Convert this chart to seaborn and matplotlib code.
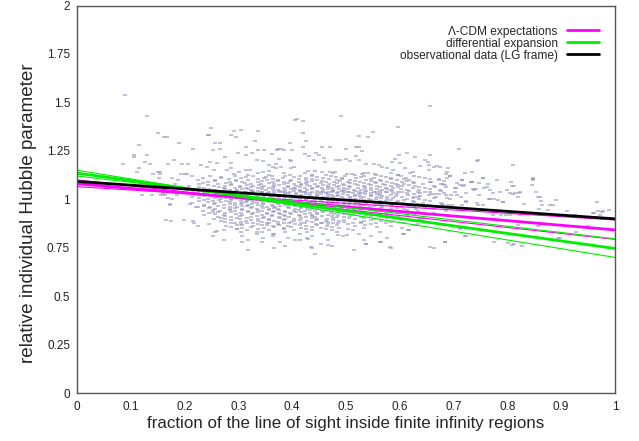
import matplotlib
matplotlib.use("Agg")
import matplotlib.pyplot as plt
import seaborn as sns
import pandas as pd

####### data #######

# fitted lines, value at x=0 and at x=1
line_x = [0.0, 1.0]
lcdm_main = [1.080, 0.842]
lcdm_band = [[1.065, 0.893], [1.100, 0.793]]
diff_main = [1.135, 0.746]
diff_band = [[1.120, 0.796], [1.150, 0.700]]
obs_line = [1.092, 0.899]

# isolated points (read one by one)
outer_x = [0.090, 0.656, 0.131, 0.490, 0.406, 0.409, 0.421, 0.250, 0.305, 0.596,
           0.291, 0.336, 0.551, 0.151, 0.296, 0.286, 0.421, 0.243, 0.246, 0.525,
           0.162, 0.167, 0.540, 0.331, 0.426, 0.190, 0.256, 0.266, 0.396, 0.116,
           0.315, 0.421, 0.456, 0.470, 0.519, 0.525, 0.216, 0.253, 0.266, 0.336,
           0.347, 0.371, 0.373, 0.380, 0.400, 0.500, 0.711, 0.385, 0.530, 0.300,
           0.325, 0.362, 0.424, 0.445, 0.613, 0.106, 0.131, 0.315, 0.450, 0.599,
           0.656, 0.106, 0.275, 0.432, 0.519, 0.628, 0.375, 0.396, 0.459, 0.500,
           0.591, 0.180, 0.334, 0.346, 0.398, 0.441, 0.481, 0.489, 0.507, 0.525,
           0.646, 0.744, 0.746, 0.126, 0.247, 0.260, 0.286, 0.461, 0.586, 0.653,
           0.086, 0.136, 0.170, 0.196, 0.206, 0.230, 0.356, 0.370, 0.537, 0.553,
           0.600, 0.654, 0.811, 0.241, 0.370, 0.379, 0.397, 0.403, 0.562, 0.567,
           0.638, 0.664, 0.670, 0.116, 0.286, 0.365, 0.576, 0.610, 0.675, 0.690,
           0.255, 0.278, 0.314, 0.322, 0.356, 0.430, 0.442, 0.588, 0.655, 0.111,
           0.151, 0.155, 0.302, 0.346, 0.455, 0.470, 0.480, 0.625, 0.687, 0.735,
           0.142, 0.193, 0.200, 0.292, 0.501, 0.511, 0.529, 0.541, 0.554, 0.619,
           0.686, 0.721, 0.154, 0.847, 0.845, 0.861, 0.966, 0.988, 0.975, 0.910,
           0.960, 0.805, 0.814, 0.822, 0.766, 0.791, 0.724, 0.748, 0.780, 0.854,
           0.862, 0.890, 0.712, 0.703, 0.734, 0.762, 0.773, 0.681, 0.693, 0.715,
           0.719, 0.735, 0.737, 0.742, 0.755, 0.768, 0.799, 0.811, 0.820, 0.783,
           0.792, 0.848, 0.856, 0.830, 0.864, 0.879, 0.885, 0.858, 0.876, 0.926,
           0.969, 0.977, 0.972, 0.961, 0.687, 0.696, 0.706, 0.715, 0.680, 0.690,
           0.746, 0.755, 0.768, 0.774, 0.789, 0.805, 0.823, 0.820, 0.861, 0.895,
           0.950, 0.712, 0.721, 0.684, 0.802, 0.808, 0.808, 0.823, 0.120, 0.139,
           0.157, 0.160, 0.172, 0.165, 0.199, 0.215, 0.221, 0.210, 0.185, 0.253,
           0.260, 0.297, 0.306, 0.334, 0.353, 0.365, 0.405, 0.430, 0.435, 0.467,
           0.486, 0.501, 0.538, 0.565, 0.582, 0.607, 0.616, 0.628, 0.656, 0.641,
           0.597, 0.607, 0.658, 0.672, 0.658, 0.672, 0.665, 0.634, 0.644, 0.631,
           0.678, 0.204, 0.170]
outer_y = [1.540, 1.480, 1.428, 1.428, 1.410, 1.416, 1.402, 1.369, 1.359, 1.371,
           1.350, 1.350, 1.349, 1.340, 1.320, 1.330, 1.342, 1.330, 1.330, 1.328,
           1.320, 1.320, 1.320, 1.299, 1.300, 1.288, 1.289, 1.289, 1.290, 1.278,
           1.268, 1.268, 1.268, 1.268, 1.270, 1.270, 1.259, 1.256, 1.260, 1.256,
           1.256, 1.256, 1.259, 1.259, 1.256, 1.259, 1.259, 1.252, 1.247, 1.239,
           1.239, 1.234, 1.235, 1.239, 1.237, 1.230, 1.230, 1.230, 1.230, 1.230,
           1.228, 1.217, 1.220, 1.222, 1.221, 1.220, 1.209, 1.204, 1.213, 1.208,
           1.208, 1.201, 1.201, 1.200, 1.196, 1.201, 1.201, 1.201, 1.196, 1.201,
           1.201, 1.199, 1.201, 1.190, 1.190, 1.187, 1.187, 1.192, 1.192, 1.194,
           1.182, 1.180, 1.180, 1.180, 1.180, 1.175, 1.178, 1.182, 1.182, 1.182,
           1.185, 1.178, 1.177, 1.167, 1.160, 1.167, 1.160, 1.167, 1.175, 1.167,
           1.172, 1.168, 1.170, 1.160, 1.161, 1.165, 1.161, 1.161, 1.166, 1.160,
           1.149, 1.152, 1.152, 1.152, 1.146, 1.148, 1.145, 1.152, 1.152, 1.139,
           1.139, 1.139, 1.140, 1.140, 1.139, 1.142, 1.142, 1.139, 1.142, 1.139,
           1.130, 1.130, 1.130, 1.130, 1.132, 1.132, 1.130, 1.134, 1.130, 1.134,
           1.130, 1.134, 1.130, 1.108, 1.074, 1.013, 0.987, 0.945, 0.936, 0.939,
           0.930, 1.034, 1.030, 1.030, 0.999, 0.987, 0.987, 1.085, 1.099, 1.039,
           0.991, 0.996, 1.074, 1.057, 1.091, 1.065, 1.034, 1.080, 1.120, 1.098,
           1.072, 1.089, 1.054, 1.051, 1.110, 1.046, 1.046, 1.029, 1.012, 0.994,
           0.986, 1.106, 1.012, 0.977, 0.968, 0.968, 0.968, 0.951, 0.943, 0.920,
           0.937, 0.937, 0.920, 0.931, 1.006, 1.020, 1.020, 0.968, 0.970, 0.970,
           0.968, 0.968, 1.003, 0.920, 0.920, 0.920, 0.920, 0.869, 0.865, 0.800,
           0.862, 0.844, 0.810, 0.779, 0.776, 0.762, 1.071, 1.037, 1.020, 1.020,
           1.020, 1.029, 0.977, 0.891, 0.891, 0.886, 0.960, 0.977, 1.020, 0.934,
           0.834, 0.848, 0.865, 0.831, 0.865, 0.822, 0.788, 0.796, 0.753, 0.762,
           0.814, 0.814, 0.771, 0.779, 0.753, 0.822, 0.840, 0.865, 0.753, 0.900,
           1.123, 1.106, 1.089, 1.106, 1.029, 1.029, 1.063, 1.012, 0.968, 0.951,
           0.977, 1.130, 1.006]

# dense core, one list of x positions for each row of y
core_y = [1.12, 1.11, 1.10, 1.09, 1.08, 1.07, 1.06, 1.05, 1.04, 1.03, 1.02, 1.01,
          1.00, 0.99, 0.98, 0.97, 0.96, 0.95, 0.94, 0.93, 0.92, 0.91, 0.90, 0.89,
          0.88, 0.87, 0.86, 0.85, 0.84, 0.83, 0.82, 0.81, 0.80, 0.79, 0.78, 0.77,
          0.76, 0.75, 0.74, 0.72]
core_x = [
    [0.213, 0.247, 0.294, 0.328, 0.362, 0.386, 0.414, 0.437, 0.472, 0.498, 0.534, 0.566, 0.603, 0.627, 0.694],
    [0.152, 0.176, 0.234, 0.268, 0.305, 0.347, 0.383, 0.426, 0.457, 0.493, 0.518, 0.553, 0.584, 0.612, 0.647, 0.688, 0.754],
    [0.187, 0.224, 0.257, 0.296, 0.318, 0.353, 0.374, 0.397, 0.425, 0.446, 0.484, 0.507, 0.538, 0.563, 0.594, 0.617, 0.673, 0.716, 0.847],
    [0.243, 0.284, 0.306, 0.337, 0.364, 0.385, 0.413, 0.428, 0.463, 0.477, 0.503, 0.526, 0.554, 0.577, 0.604, 0.625, 0.657, 0.733, 0.806],
    [0.183, 0.226, 0.263, 0.287, 0.324, 0.342, 0.366, 0.384, 0.404, 0.417, 0.443, 0.468, 0.494, 0.516, 0.543, 0.568, 0.593, 0.608, 0.643, 0.677, 0.764],
    [0.208, 0.254, 0.276, 0.303, 0.327, 0.348, 0.367, 0.392, 0.408, 0.434, 0.448, 0.466, 0.487, 0.506, 0.534, 0.557, 0.583, 0.604, 0.628, 0.664, 0.717, 0.813],
    [0.236, 0.274, 0.293, 0.314, 0.336, 0.357, 0.384, 0.403, 0.424, 0.437, 0.456, 0.474, 0.497, 0.523, 0.547, 0.574, 0.588, 0.624, 0.646, 0.704, 0.757],
    [0.204, 0.257, 0.284, 0.298, 0.326, 0.352, 0.373, 0.386, 0.415, 0.427, 0.457, 0.476, 0.496, 0.514, 0.527, 0.546, 0.567, 0.584, 0.613, 0.636, 0.674, 0.738],
    [0.224, 0.246, 0.273, 0.287, 0.314, 0.328, 0.344, 0.357, 0.383, 0.396, 0.423, 0.436, 0.454, 0.466, 0.486, 0.504, 0.524, 0.553, 0.574, 0.596, 0.634, 0.657, 0.703, 0.786],
    [0.186, 0.237, 0.264, 0.277, 0.303, 0.317, 0.354, 0.366, 0.393, 0.407, 0.433, 0.446, 0.463, 0.484, 0.513, 0.527, 0.547, 0.563, 0.587, 0.614, 0.637, 0.683, 0.724],
    [0.163, 0.228, 0.254, 0.266, 0.293, 0.306, 0.334, 0.346, 0.364, 0.377, 0.396, 0.416, 0.434, 0.447, 0.474, 0.486, 0.503, 0.517, 0.546, 0.564, 0.583, 0.616, 0.654, 0.686, 0.747],
    [0.214, 0.263, 0.284, 0.297, 0.323, 0.336, 0.358, 0.387, 0.406, 0.423, 0.437, 0.457, 0.476, 0.493, 0.508, 0.534, 0.557, 0.576, 0.604, 0.627, 0.667, 0.714],
    [0.176, 0.244, 0.267, 0.286, 0.313, 0.327, 0.354, 0.368, 0.384, 0.398, 0.414, 0.426, 0.453, 0.468, 0.484, 0.497, 0.516, 0.543, 0.556, 0.577, 0.613, 0.636, 0.694, 0.776],
    [0.226, 0.253, 0.277, 0.304, 0.316, 0.343, 0.357, 0.376, 0.403, 0.417, 0.436, 0.454, 0.467, 0.486, 0.514, 0.524, 0.563, 0.574, 0.597, 0.624, 0.657, 0.723],
    [0.213, 0.256, 0.294, 0.307, 0.334, 0.346, 0.373, 0.384, 0.413, 0.426, 0.443, 0.466, 0.483, 0.496, 0.523, 0.537, 0.554, 0.587, 0.606, 0.643, 0.676, 0.743],
    [0.173, 0.236, 0.274, 0.293, 0.318, 0.337, 0.363, 0.387, 0.394, 0.413, 0.427, 0.454, 0.473, 0.487, 0.506, 0.534, 0.557, 0.584, 0.616, 0.654, 0.697],
    [0.224, 0.247, 0.284, 0.297, 0.326, 0.354, 0.368, 0.393, 0.417, 0.436, 0.463, 0.477, 0.503, 0.514, 0.544, 0.567, 0.604, 0.626, 0.674],
    [0.257, 0.284, 0.306, 0.334, 0.357, 0.374, 0.406, 0.427, 0.446, 0.474, 0.493, 0.517, 0.526, 0.554, 0.583, 0.607, 0.664, 0.706],
    [0.234, 0.266, 0.293, 0.317, 0.344, 0.366, 0.386, 0.404, 0.424, 0.443, 0.456, 0.484, 0.497, 0.526, 0.564, 0.587, 0.633, 0.686],
    [0.246, 0.276, 0.304, 0.327, 0.353, 0.376, 0.396, 0.434, 0.447, 0.473, 0.504, 0.516, 0.546, 0.574, 0.616, 0.664],
    [0.237, 0.273, 0.307, 0.344, 0.363, 0.384, 0.413, 0.437, 0.466, 0.486, 0.514, 0.537, 0.576, 0.613, 0.677, 0.797],
    [0.263, 0.286, 0.323, 0.347, 0.376, 0.394, 0.426, 0.443, 0.484, 0.496, 0.527, 0.566, 0.597, 0.643],
    [0.254, 0.276, 0.303, 0.336, 0.357, 0.386, 0.404, 0.446, 0.464, 0.517, 0.553, 0.594, 0.636],
    [0.174, 0.267, 0.314, 0.337, 0.366, 0.404, 0.427, 0.463, 0.487, 0.534, 0.566, 0.624],
    [0.217, 0.287, 0.316, 0.354, 0.384, 0.417, 0.453, 0.476, 0.513, 0.556, 0.607],
    [0.246, 0.304, 0.336, 0.373, 0.406, 0.444, 0.467, 0.503, 0.546, 0.634],
    [0.224, 0.277, 0.327, 0.364, 0.393, 0.426, 0.464, 0.517, 0.583, 0.857],
    [0.306, 0.347, 0.384, 0.417, 0.454, 0.487, 0.534, 0.604, 0.713],
    [0.273, 0.316, 0.356, 0.404, 0.437, 0.474, 0.513, 0.617],
    [0.257, 0.304, 0.343, 0.386, 0.427, 0.484, 0.563, 0.927],
    [0.334, 0.366, 0.414, 0.457, 0.524, 0.606],
    [0.253, 0.307, 0.364, 0.436, 0.494, 0.547, 0.724],
    [0.346, 0.393, 0.427, 0.576, 0.897],
    [0.274, 0.317, 0.414, 0.466, 0.534],
    [0.306, 0.344, 0.377, 0.563, 0.684, 0.776],
    [0.453, 0.537, 0.813],
    [0.386, 0.474, 0.827],
    [0.366, 0.437, 0.584, 0.663],
    [0.317, 0.514],
    [0.443],
]

# the thickest part of the cloud, rows in between the ones above
core2_y = [1.135, 1.125, 1.115, 1.105, 1.095, 1.085, 1.075, 1.065, 1.055, 1.045,
           1.035, 1.025, 1.015, 1.005, 0.995, 0.985, 0.975, 0.965, 0.955, 0.945,
           0.935, 0.925, 0.915, 0.905, 0.895, 0.885, 0.875, 0.865, 0.855, 0.845]
core2_x = [
    [0.336, 0.384, 0.423, 0.476, 0.534, 0.583],
    [0.318, 0.357, 0.396, 0.437, 0.463, 0.517, 0.556, 0.597],
    [0.268, 0.315, 0.352, 0.404, 0.447, 0.482, 0.527, 0.574, 0.636],
    [0.283, 0.336, 0.365, 0.413, 0.436, 0.468, 0.492, 0.546, 0.583, 0.656],
    [0.256, 0.296, 0.344, 0.373, 0.396, 0.437, 0.456, 0.488, 0.516, 0.547, 0.566, 0.614, 0.683],
    [0.234, 0.277, 0.312, 0.356, 0.393, 0.426, 0.453, 0.483, 0.507, 0.534, 0.556, 0.586, 0.627, 0.706],
    [0.243, 0.287, 0.316, 0.338, 0.376, 0.416, 0.427, 0.457, 0.477, 0.497, 0.523, 0.546, 0.573, 0.597, 0.617, 0.684],
    [0.226, 0.264, 0.303, 0.324, 0.343, 0.364, 0.393, 0.414, 0.446, 0.466, 0.483, 0.507, 0.536, 0.563, 0.596, 0.636, 0.686],
    [0.246, 0.276, 0.307, 0.318, 0.344, 0.364, 0.397, 0.406, 0.437, 0.466, 0.487, 0.504, 0.536, 0.557, 0.576, 0.603, 0.657],
    [0.234, 0.263, 0.296, 0.323, 0.337, 0.366, 0.377, 0.404, 0.414, 0.446, 0.476, 0.493, 0.517, 0.537, 0.564, 0.586, 0.617, 0.676],
    [0.216, 0.253, 0.286, 0.313, 0.327, 0.344, 0.376, 0.387, 0.416, 0.424, 0.457, 0.474, 0.497, 0.506, 0.536, 0.556, 0.577, 0.604, 0.646],
    [0.243, 0.274, 0.287, 0.316, 0.343, 0.356, 0.386, 0.407, 0.426, 0.454, 0.466, 0.494, 0.524, 0.536, 0.557, 0.594, 0.627, 0.666],
    [0.236, 0.247, 0.273, 0.306, 0.316, 0.347, 0.367, 0.376, 0.396, 0.417, 0.446, 0.467, 0.484, 0.517, 0.526, 0.546, 0.567, 0.593, 0.637],
    [0.226, 0.256, 0.277, 0.296, 0.323, 0.337, 0.363, 0.376, 0.407, 0.434, 0.447, 0.464, 0.476, 0.507, 0.527, 0.566, 0.587, 0.624, 0.664],
    [0.236, 0.264, 0.287, 0.317, 0.326, 0.348, 0.367, 0.386, 0.393, 0.426, 0.443, 0.474, 0.496, 0.506, 0.534, 0.547, 0.584, 0.607, 0.646],
    [0.243, 0.267, 0.284, 0.314, 0.327, 0.356, 0.364, 0.396, 0.407, 0.434, 0.457, 0.476, 0.507, 0.517, 0.546, 0.566, 0.594, 0.627],
    [0.254, 0.284, 0.304, 0.326, 0.346, 0.374, 0.403, 0.424, 0.437, 0.464, 0.496, 0.516, 0.527, 0.566, 0.597, 0.634],
    [0.237, 0.263, 0.306, 0.316, 0.343, 0.364, 0.377, 0.406, 0.426, 0.446, 0.486, 0.496, 0.526, 0.553, 0.586, 0.617],
    [0.246, 0.274, 0.294, 0.324, 0.346, 0.366, 0.394, 0.416, 0.437, 0.456, 0.466, 0.504, 0.537, 0.566, 0.594, 0.646],
    [0.253, 0.284, 0.306, 0.336, 0.356, 0.376, 0.413, 0.433, 0.467, 0.474, 0.513, 0.546, 0.577, 0.614],
    [0.263, 0.287, 0.317, 0.336, 0.364, 0.387, 0.407, 0.417, 0.457, 0.487, 0.496, 0.534, 0.556, 0.596],
    [0.256, 0.296, 0.326, 0.354, 0.377, 0.397, 0.424, 0.446, 0.477, 0.497, 0.526, 0.563, 0.627],
    [0.276, 0.303, 0.334, 0.363, 0.386, 0.414, 0.436, 0.456, 0.474, 0.507, 0.546, 0.583],
    [0.267, 0.297, 0.316, 0.346, 0.377, 0.416, 0.436, 0.476, 0.506, 0.534, 0.576],
    [0.286, 0.324, 0.356, 0.384, 0.414, 0.444, 0.476, 0.497, 0.546, 0.603],
    [0.276, 0.304, 0.343, 0.373, 0.397, 0.436, 0.467, 0.496, 0.527, 0.584],
    [0.293, 0.327, 0.357, 0.394, 0.424, 0.456, 0.486, 0.527, 0.574],
    [0.297, 0.343, 0.376, 0.414, 0.446, 0.484, 0.536],
    [0.286, 0.324, 0.366, 0.397, 0.436, 0.474, 0.557],
    [0.297, 0.336, 0.384, 0.426, 0.463, 0.503],
]

x_ticks = [0, 0.1, 0.2, 0.3, 0.4, 0.5, 0.6, 0.7, 0.8, 0.9, 1]
x_tick_labels = ['0', '0.1', '0.2', '0.3', '0.4', '0.5', '0.6', '0.7', '0.8', '0.9', '1']
y_ticks = [0, 0.25, 0.5, 0.75, 1, 1.25, 1.5, 1.75, 2]
y_tick_labels = ['0', '0.25', '0.5', '0.75', '1', '1.25', '1.5', '1.75', '2']

####### build the point table #######
px = list(outer_x)
py = list(outer_y)
for rows_y, rows_x in [(core_y, core_x), (core2_y, core2_x)]:
    for yy, xs in zip(rows_y, rows_x):
        px += xs
        py += [yy] * len(xs)
dots = pd.DataFrame({'frac': px, 'h': py})

####### plot #######
sns.set_style('white')
plt.rcParams['font.family'] = ['Liberation Sans', 'DejaVu Sans']

fig = plt.figure(figsize=(6.39, 4.41), dpi=100)
ax = fig.add_axes([0.1205, 0.1088, 0.8419, 0.8787])

# small flat dashes like the gnuplot dots
dash = [(-1.5, -1), (1.5, -1), (1.5, 1), (-1.5, 1), (-1.5, -1)]
sns.scatterplot(data=dots, x='frac', y='h', ax=ax, marker=dash, s=8,
                color='#8585bb', alpha=0.5, linewidth=0, legend=False)

magenta = '#ff00ff'
green = '#00ee00'

for band in lcdm_band:
    sns.lineplot(x=line_x, y=band, ax=ax, color=magenta, lw=0.8)
sns.lineplot(x=line_x, y=lcdm_main, ax=ax, color=magenta, lw=2.0, label='Λ-CDM expectations')
for band in diff_band:
    sns.lineplot(x=line_x, y=band, ax=ax, color=green, lw=0.8)
sns.lineplot(x=line_x, y=diff_main, ax=ax, color=green, lw=2.0, label='differential expansion')
sns.lineplot(x=line_x, y=obs_line, ax=ax, color='black', lw=2.0, label='observational data (LG frame)')

ax.set_xlim(0, 1)
ax.set_ylim(0, 2)
ax.set_xticks(x_ticks)
ax.set_xticklabels(x_tick_labels)
ax.set_yticks(y_ticks)
ax.set_yticklabels(y_tick_labels)
ax.tick_params(length=0, labelsize=8.5, colors='#222222')
ax.tick_params(axis='y', pad=5)
ax.tick_params(axis='x', pad=6)

for s in ax.spines.values():
    s.set_color('#555555')
    s.set_linewidth(1.0)

ax.set_xlabel('fraction of the line of sight inside finite infinity regions', fontsize=12.2, labelpad=2)
ax.set_ylabel('relative individual Hubble parameter', fontsize=13.6)
ax.yaxis.set_label_coords(-0.075, 0.465)

ax.legend(loc='upper right', bbox_to_anchor=(0.970, 0.948), frameon=False, markerfirst=False,
          fontsize=8.6, handlelength=2.7, handletextpad=0.75, labelspacing=0.0,
          borderpad=0, borderaxespad=0)

fig.savefig('out.png', dpi=100)
